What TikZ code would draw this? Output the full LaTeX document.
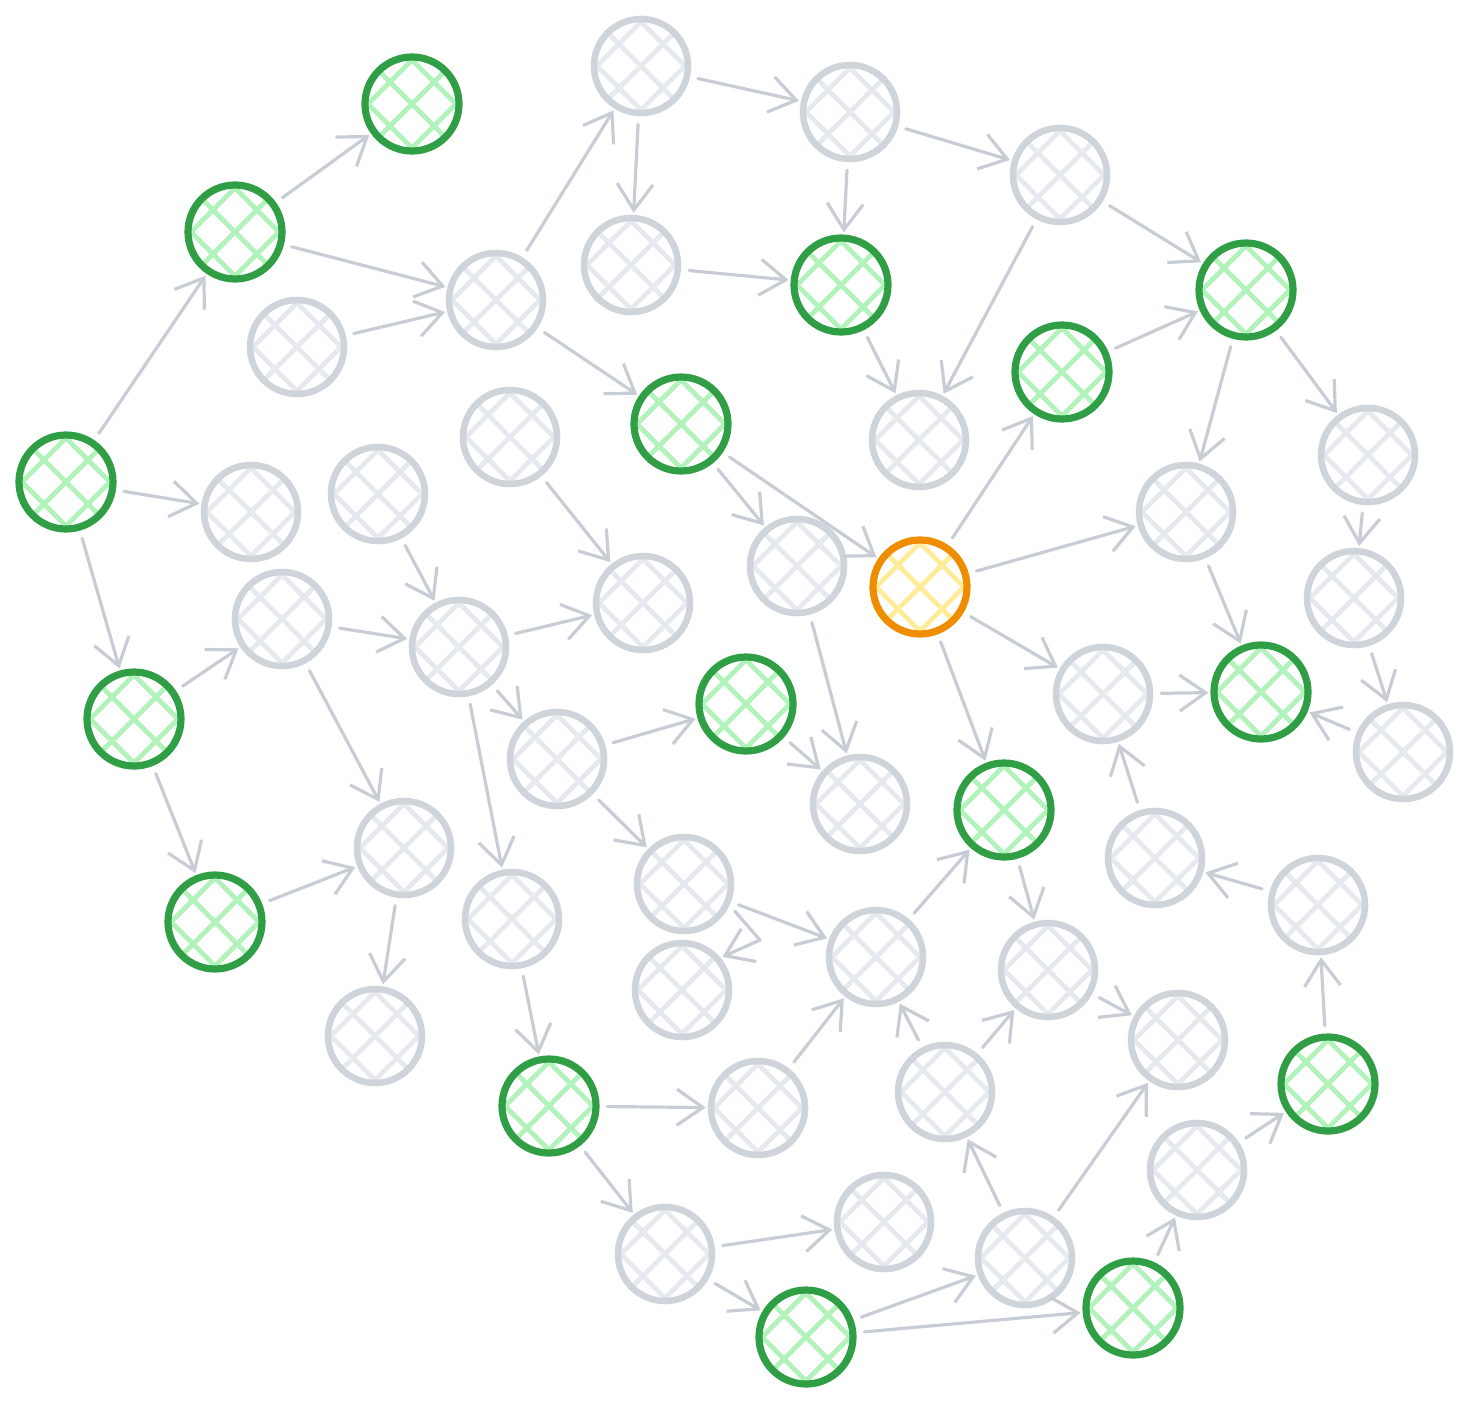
\documentclass[tikz,border=0pt]{standalone}
\usetikzlibrary{arrows.meta}
\definecolor{gstroke}{HTML}{2F9E44}
\definecolor{ghatch}{HTML}{B2F2BB}
\definecolor{ostroke}{HTML}{F08C00}
\definecolor{ohatch}{HTML}{FFEC99}
\definecolor{nstroke}{HTML}{CED4DA}
\definecolor{nhatch}{HTML}{E6E9ED}
\definecolor{acol}{HTML}{C8CDD5}
\tikzset{
  hnode/.style 2 args={circle, minimum size=47pt, inner sep=0pt, draw=#1,
    path picture={\begin{scope}[shift={(path picture bounding box.center)}]
      \foreach \o in {-44,0,44}{
        \draw[#2, line width=2.4pt] (\o-70,-70)--(\o+70,70);
        \draw[#2, line width=2.4pt] (\o-70,70)--(\o+70,-70);}
      \end{scope}}},
  gn/.style={hnode={gstroke}{ghatch}, line width=3.6pt},
  gy/.style={hnode={nstroke}{nhatch}, line width=3.3pt},
  og/.style={hnode={ostroke}{ohatch}, line width=3.6pt},
  arr/.style={draw=acol, line width=1.6pt, line cap=round, line join=round,
    -{Straight Barb[length=13pt,width=18pt]}, shorten >=1pt, shorten <=4pt},
}
\begin{document}
\begin{tikzpicture}[x=0.5pt,y=-0.5pt]
\useasboundingbox (0,0) rectangle (1471,1408);
% green nodes
\node[gn] (G1) at (412,104) {};
\node[gn] (G2) at (235,232) {};
\node[gn] (G3) at (66,482) {};
\node[gn] (G4) at (134,719) {};
\node[gn] (G5) at (215,922) {};
\node[gn] (G6) at (681,424) {};
\node[gn] (G7) at (841,285) {};
\node[gn] (G8) at (1062,372) {};
\node[gn] (G9) at (1246,290) {};
\node[gn] (G10) at (746,704) {};
\node[gn] (G11) at (1004,810) {};
\node[gn] (G12) at (1261,692) {};
\node[gn] (G13) at (549,1106) {};
\node[gn] (G14) at (806,1337) {};
\node[gn] (G15) at (1133,1308) {};
\node[gn] (G16) at (1328,1084) {};
% orange
\node[og] (O) at (920,587) {};
% gray nodes
\node[gy] (A) at (641,66) {};
\node[gy] (B) at (850,112) {};
\node[gy] (C) at (1060,175) {};
\node[gy] (D) at (631,265) {};
\node[gy] (E) at (496,300) {};
\node[gy] (F) at (297,347) {};
\node[gy] (H) at (510,437) {};
\node[gy] (I) at (251,512) {};
\node[gy] (J) at (378,494) {};
\node[gy] (K) at (282,619) {};
\node[gy] (L) at (459,647) {};
\node[gy] (M) at (643,603) {};
\node[gy] (N) at (797,566) {};
\node[gy] (P) at (919,440) {};
\node[gy] (Q) at (1186,512) {};
\node[gy] (R) at (1368,455) {};
\node[gy] (S) at (1354,598) {};
\node[gy] (T) at (1103,694) {};
\node[gy] (U) at (1403,752) {};
\node[gy] (V) at (557,759) {};
\node[gy] (W) at (860,804) {};
\node[gy] (X) at (404,848) {};
\node[gy] (Y) at (512,919) {};
\node[gy] (Z) at (684,884) {};
\node[gy] (AA) at (682,990) {};
\node[gy] (AB) at (876,957) {};
\node[gy] (AC) at (1048,970) {};
\node[gy] (AD) at (1155,858) {};
\node[gy] (AE) at (1318,905) {};
\node[gy] (AF) at (1178,1040) {};
\node[gy] (AG) at (375,1036) {};
\node[gy] (AH) at (758,1108) {};
\node[gy] (AI) at (945,1092) {};
\node[gy] (AJ) at (1197,1170) {};
\node[gy] (AK) at (665,1254) {};
\node[gy] (AL) at (884,1222) {};
\node[gy] (AM) at (1025,1258) {};
\coordinate (zz) at (760,940);
% edges
\draw[arr] (G2) -- (G1);
\draw[arr] (G3) -- (G2);
\draw[arr] (G2) -- (E);
\draw[arr] (F) -- (E);
\draw[arr] (E) -- (A);
\draw[arr] (A) -- (B);
\draw[arr] (A) -- (D);
\draw[arr] (B) -- (G7);
\draw[arr] (B) -- (C);
\draw[arr] (C) -- (G9);
\draw[arr] (C) -- (P);
\draw[arr] (D) -- (G7);
\draw[arr] (G7) -- (P);
\draw[arr] (E) -- (G6);
\draw[arr] (G6) -- (O);
\draw[arr] (G6) -- (N);
\draw[arr] (G8) -- (G9);
\draw[arr] (O) -- (G8);
\draw[arr] (O) -- (Q);
\draw[arr] (G9) -- (Q);
\draw[arr] (G9) -- (R);
\draw[arr] (R) -- (S);
\draw[arr] (S) -- (U);
\draw[arr] (U) -- (G12);
\draw[arr] (Q) -- (G12);
\draw[arr] (T) -- (G12);
\draw[arr] (O) -- (T);
\draw[arr] (O) -- (G11);
\draw[arr] (N) -- (W);
\draw[arr] (H) -- (M);
\draw[arr] (G3) -- (I);
\draw[arr] (G3) -- (G4);
\draw[arr] (J) -- (L);
\draw[arr] (K) -- (L);
\draw[arr] (L) -- (M);
\draw[arr] (L) -- (V);
\draw[arr] (G4) -- (K);
\draw[arr] (G4) -- (G5);
\draw[arr] (K) -- (X);
\draw[arr] (L) -- (Y);
\draw[arr] (V) -- (G10);
\draw[arr] (G10) -- (W);
\draw[arr] (G5) -- (X);
\draw[arr] (X) -- (AG);
\draw[arr] (Y) -- (G13);
\draw[arr] (V) -- (Z);
\draw[arr] (Z) -- (AB);
\draw[arr] (Z.-25) -- (zz) -- (AA.40);
\draw[arr] (AB) -- (G11);
\draw[arr] (G11) -- (AC);
\draw[arr] (AC) -- (AF);
\draw[arr] (AI) -- (AB);
\draw[arr] (AI) -- (AC);
\draw[arr] (AH) -- (AB);
\draw[arr] (G13) -- (AH);
\draw[arr] (G13) -- (AK);
\draw[arr] (AK) -- (AL);
\draw[arr] (AK) -- (G14);
\draw[arr] (G14) -- (AM);
\draw[arr] (G14) -- (G15);
\draw[arr] (AM) -- (AI);
\draw[arr] (AM) -- (AF);
\draw[arr] (G15) -- (AJ);
\draw[arr] (AJ) -- (G16);
\draw[arr] (G16) -- (AE);
\draw[arr] (AE) -- (AD);
\draw[arr] (AD) -- (T);
\end{tikzpicture}
\end{document}
